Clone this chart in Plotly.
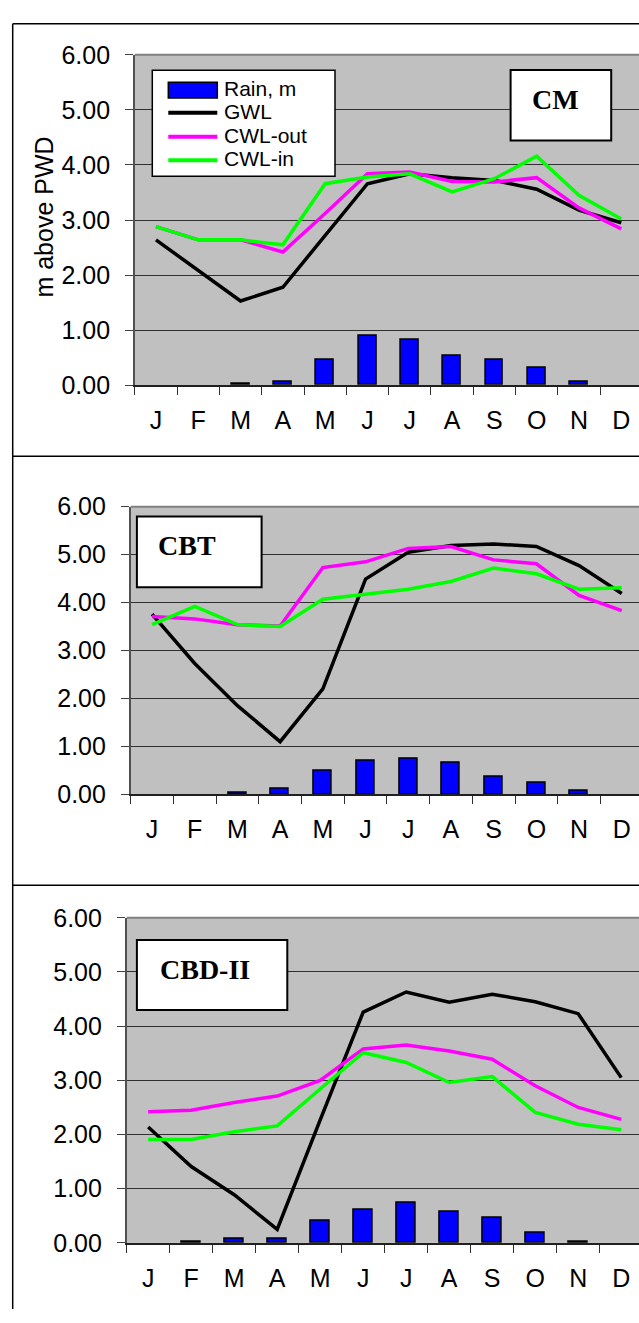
import plotly.graph_objects as go

# ---------------- data ----------------
MONTHS = ["Jan", "Feb", "Mar", "Apr", "May", "Jun", "Jul", "Aug", "Sep", "Oct", "Nov", "Dec"]
MONTH_LABELS = ["J", "F", "M", "A", "M", "J", "J", "A", "S", "O", "N", "D"]
SERIES_NAMES = ["Rain, m", "GWL", "CWL-out", "CWL-in"]
PANEL_TITLES = ["CM", "CBT", "CBD-II"]
Y_TITLE = "m above PWD"
Y_TICKS = [0, 1, 2, 3, 4, 5, 6]

RAIN_CM = [0, 0, 0.03, 0.07, 0.47, 0.90, 0.82, 0.54, 0.47, 0.32, 0.07, 0]
GWL_CM = [2.64, 2.09, 1.53, 1.78, 2.73, 3.66, 3.84, 3.77, 3.72, 3.56, 3.18, 2.95]
CWLOUT_CM = [2.88, 2.64, 2.64, 2.42, 3.12, 3.84, 3.87, 3.70, 3.69, 3.77, 3.22, 2.84]
CWLIN_CM = [2.88, 2.64, 2.64, 2.55, 3.66, 3.78, 3.84, 3.51, 3.75, 4.16, 3.45, 3.02]

RAIN_CBT = [0, 0, 0.04, 0.12, 0.50, 0.71, 0.75, 0.67, 0.37, 0.25, 0.08, 0]
GWL_CBT = [3.76, 2.73, 1.85, 1.10, 2.20, 4.49, 5.05, 5.19, 5.22, 5.17, 4.77, 4.19]
CWLOUT_CBT = [3.71, 3.66, 3.54, 3.51, 4.73, 4.85, 5.13, 5.17, 4.89, 4.81, 4.15, 3.83]
CWLIN_CBT = [3.54, 3.92, 3.54, 3.50, 4.07, 4.17, 4.28, 4.44, 4.72, 4.60, 4.28, 4.31]

RAIN_CBD = [0, 0.03, 0.07, 0.07, 0.40, 0.61, 0.75, 0.57, 0.46, 0.18, 0.03, 0]
GWL_CBD = [2.14, 1.41, 0.89, 0.25, 2.27, 4.26, 4.63, 4.44, 4.59, 4.45, 4.23, 3.05]
CWLOUT_CBD = [2.42, 2.45, 2.59, 2.71, 3.00, 3.58, 3.65, 3.54, 3.39, 2.90, 2.50, 2.28]
CWLIN_CBD = [1.91, 1.91, 2.05, 2.16, 2.84, 3.51, 3.33, 2.96, 3.07, 2.41, 2.19, 2.09]

PANELS = [
    (RAIN_CM, GWL_CM, CWLOUT_CM, CWLIN_CM),
    (RAIN_CBT, GWL_CBT, CWLOUT_CBT, CWLIN_CBT),
    (RAIN_CBD, GWL_CBD, CWLOUT_CBD, CWLIN_CBD),
]

# ---------------- styles / geometry ----------------
W, H = 639, 1323
BAR_COLOR = "#0000FF"
LINE_COLORS = ["#000000", "#FF00FF", "#00FF00"]
PLOT_BG = "#C0C0C0"
SANS = "Liberation Sans, Arial, sans-serif"
SERIF = "Liberation Serif, Times New Roman, serif"

# per panel: (left axis x px, category width px, top px (6.00), bottom px (0.00))
GEOM = [
    (134.8, 42.3, 41.7, 379.3),
    (130.7, 42.7, 503.3, 797.3),
    (126.7, 43.0, 923.3, 1255.5),
]
# label boxes: (x0, x1, y0, y1, text cx, text cy)
BOXES = [
    (510.6, 611.2, 57.3, 129.3, 555.4, 87.5),
    (136.9, 261.6, 513.3, 585.7, 187.4, 543.5),
    (136.9, 287.3, 946.0, 1017.5, 205.0, 976.5),
]


def px(x):
    return x / W


def py(y):
    return 1 - y / H


fig = go.Figure()
layout = dict(
    width=W, height=H, autosize=False,
    margin=dict(l=0, r=0, t=0, b=0, pad=0),
    paper_bgcolor="#FFFFFF",
    plot_bgcolor=PLOT_BG,
    showlegend=False,
    bargap=0,
)
shapes = []
annotations = []

for i, (rain, gwl, cout, cin) in enumerate(PANELS):
    n = "" if i == 0 else str(i + 1)
    xa, ya = "x" + n, "y" + n
    x0, cw, top, bot = GEOM[i]
    fig.add_trace(go.Bar(
        x=MONTHS, y=rain, name=SERIES_NAMES[0], width=0.42,
        marker=dict(color=BAR_COLOR,
                    line=dict(color="#000000",
                              width=[0 if v == 0 else 1.5 for v in rain])),
        xaxis=xa, yaxis=ya))
    for s, (vals, col) in enumerate(zip((gwl, cout, cin), LINE_COLORS)):
        fig.add_trace(go.Scatter(
            x=MONTHS, y=vals, mode="lines", name=SERIES_NAMES[s + 1],
            line=dict(color=col, width=3.5), xaxis=xa, yaxis=ya))
    xend = -0.5 + (W - x0) / cw
    layout["xaxis" + n] = dict(
        domain=[px(x0), 1], anchor=ya, type="category",
        categoryorder="array", categoryarray=MONTHS,
        range=[-0.5, xend], tickson="boundaries",
        tickvals=MONTHS, ticktext=MONTH_LABELS,
        ticks="outside", ticklen=8, tickwidth=1, tickcolor="#303030",
        ticklabelstandoff=12,
        showline=True, linecolor="#202020", linewidth=1.5,
        showgrid=False, zeroline=False, fixedrange=True,
        tickfont=dict(family=SANS, size=25, color="#000000"),
    )
    layout["yaxis" + n] = dict(
        domain=[py(bot), py(top)], anchor=xa,
        range=[0, 6], tickvals=Y_TICKS, tickformat=".2f",
        ticks="outside", ticklen=8, tickwidth=1, tickcolor="#404040",
        ticklabelstandoff=10,
        showline=True, linecolor="#505050", linewidth=1.5,
        showgrid=True, gridcolor="#303030", gridwidth=1,
        zeroline=False, fixedrange=True,
        tickfont=dict(family=SANS, size=25, color="#000000"),
    )
    # plot area top border (gray)
    shapes.append(dict(type="line", xref="paper", yref="paper",
                       x0=px(x0), x1=1, y0=py(top), y1=py(top),
                       line=dict(color="#808080", width=2)))
    # label box
    bx0, bx1, by0, by1, tcx, tcy = BOXES[i]
    shapes.append(dict(type="rect", xref="paper", yref="paper",
                       x0=px(bx0), x1=px(bx1), y0=py(by1), y1=py(by0),
                       fillcolor="#FFFFFF", line=dict(color="#000000", width=2)))
    annotations.append(dict(xref="paper", yref="paper", x=px(tcx), y=py(tcy),
                            text="<b>%s</b>" % PANEL_TITLES[i], showarrow=False,
                            xanchor="center", yanchor="middle",
                            font=dict(family=SERIF, size=28, color="#000000")))

# chart-area borders
for yb in (10, 451.7, 890):
    shapes.append(dict(type="line", xref="paper", yref="paper",
                       x0=px(12.7), x1=1, y0=py(yb), y1=py(yb),
                       line=dict(color="#000000", width=1.5)))
shapes.append(dict(type="line", xref="paper", yref="paper",
                   x0=px(12.7), x1=px(12.7), y0=py(10), y1=0,
                   line=dict(color="#000000", width=1.5)))

# y-axis title (top panel only)
annotations.append(dict(xref="paper", yref="paper", x=px(44), y=py(208),
                        text=Y_TITLE, showarrow=False, textangle=-90,
                        xanchor="center", yanchor="middle",
                        font=dict(family=SANS, size=25, color="#000000")))

# legend (top panel)
LEG = dict(x0=152.3, x1=335, y0=57.5, y1=165.7, sx0=168.3, sx1=217.3, tx=224,
           rows=[77.7, 101, 125.3, 149.3])
shapes.append(dict(type="rect", xref="paper", yref="paper",
                   x0=px(LEG["x0"]), x1=px(LEG["x1"]), y0=py(LEG["y1"]), y1=py(LEG["y0"]),
                   fillcolor="#FFFFFF", line=dict(color="#000000", width=1.5)))
r0 = LEG["rows"][0]
shapes.append(dict(type="rect", xref="paper", yref="paper",
                   x0=px(LEG["sx0"]), x1=px(LEG["sx1"]), y0=py(r0 + 8), y1=py(r0 - 8),
                   fillcolor=BAR_COLOR, line=dict(color="#000000", width=1.5)))
for k, col in enumerate(LINE_COLORS):
    yy = LEG["rows"][k + 1]
    shapes.append(dict(type="line", xref="paper", yref="paper",
                       x0=px(LEG["sx0"]), x1=px(LEG["sx1"]), y0=py(yy), y1=py(yy),
                       line=dict(color=col, width=4)))
for k, name in enumerate(SERIES_NAMES):
    annotations.append(dict(xref="paper", yref="paper", x=px(LEG["tx"]),
                            y=py(LEG["rows"][k] - 1.5), text=name, showarrow=False,
                            xanchor="left", yanchor="middle",
                            borderpad=0, borderwidth=0,
                            font=dict(family=SANS, size=21, color="#000000")))

layout["shapes"] = shapes
layout["annotations"] = annotations
fig.update_layout(**layout)
fig.write_html("out.html")
